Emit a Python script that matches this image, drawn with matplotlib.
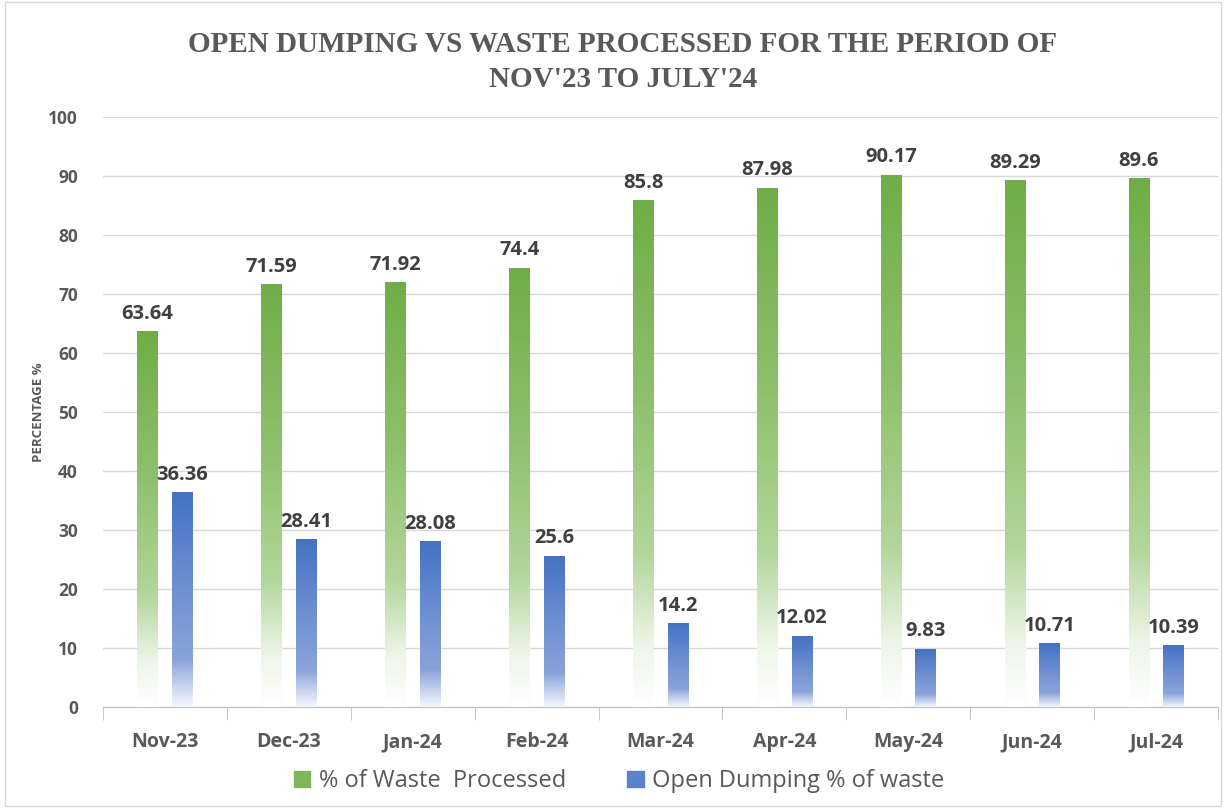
import numpy as np
import matplotlib.pyplot as plt
from matplotlib.colors import LinearSegmentedColormap
from matplotlib.patches import Rectangle

# Data
months = ["Nov-23", "Dec-23", "Jan-24", "Feb-24", "Mar-24", "Apr-24", "May-24", "Jun-24", "Jul-24"]
processed = [63.64, 71.59, 71.92, 74.4, 85.8, 87.98, 90.17, 89.29, 89.6]
dumping = [36.36, 28.41, 28.08, 25.6, 14.2, 12.02, 9.83, 10.71, 10.39]
processed_labels = ["63.64", "71.59", "71.92", "74.4", "85.8", "87.98", "90.17", "89.29", "89.6"]
dumping_labels = ["36.36", "28.41", "28.08", "25.6", "14.2", "12.02", "9.83", "10.71", "10.39"]

green_cmap = LinearSegmentedColormap.from_list(
    "g", [(0, "#ffffff"), (0.12, "#eef6e8"), (0.3, "#b2d69b"), (0.6, "#8fc16d"), (1, "#70ad47")])
blue_cmap = LinearSegmentedColormap.from_list(
    "b", [(0, "#f4f7fc"), (0.1, "#c6d3ee"), (0.22, "#8aa4da"), (0.6, "#6a8dd0"), (1, "#4472c4")])

fig = plt.figure(figsize=(12.26, 8.08), dpi=100)
ax = fig.add_axes([0.084, 0.125, 0.9095, 0.73])

font = "Open Sans"
width = 0.165
offset = 0.14
grad = np.linspace(0, 1, 256).reshape(-1, 1)

x = np.arange(len(months))
for i in range(len(months)):
    for val, lab, dx, cmap in [(processed[i], processed_labels[i], -offset, green_cmap),
                               (dumping[i], dumping_labels[i], offset, blue_cmap)]:
        cx = x[i] + dx
        ax.imshow(grad, extent=[cx - width / 2, cx + width / 2, 0, val], origin="lower",
                  aspect="auto", cmap=cmap, zorder=3)
        ax.text(cx, val + 1.3, lab, ha="center", va="bottom", fontsize=14.5,
                fontweight="bold", color="#404040", family=font, zorder=4)

ax.set_xlim(-0.5, len(months) - 0.5)
ax.set_ylim(0, 100)
ax.set_yticks(range(0, 101, 10))
ax.yaxis.grid(True, color="#d9d9d9", linewidth=1)
ax.set_axisbelow(True)
for s in ["top", "right", "left"]:
    ax.spines[s].set_visible(False)
ax.spines["bottom"].set_color("#bfbfbf")

ax.set_xticks(x)
ax.set_xticklabels(months)
ax.set_xticks(np.arange(-0.5, len(months), 1), minor=True)
ax.tick_params(axis="x", which="major", length=0, pad=18)
ax.tick_params(axis="x", which="minor", length=9, color="#bfbfbf")
ax.tick_params(axis="y", length=0, pad=18)
for t in ax.get_xticklabels():
    t.set_fontsize(14)
    t.set_fontweight("bold")
    t.set_color("#595959")
    t.set_family(font)
for t in ax.get_yticklabels():
    t.set_fontsize(12.5)
    t.set_fontweight("bold")
    t.set_color("#595959")
    t.set_family(font)

fig.text(0.031, 0.49, "PERCENTAGE %", rotation=90, ha="center", va="center",
         fontsize=9.5, fontweight="bold", color="#595959", family=font)

fig.suptitle("OPEN DUMPING VS WASTE PROCESSED FOR THE PERIOD OF\nNOV'23 TO JULY'24",
             x=0.508, y=0.962, fontsize=21, fontweight="bold", color="#595959",
             family="Liberation Serif", linespacing=1.4)

handles = [Rectangle((0, 0), 1, 1, color="#7fb65a"), Rectangle((0, 0), 1, 1, color="#5a82ca")]
leg = fig.legend(handles, ["% of Waste  Processed", "Open Dumping % of waste"],
                 loc="center", bbox_to_anchor=(0.505, 0.033), ncol=2, frameon=False,
                 handlelength=0.7, handleheight=0.7, columnspacing=2.6, handletextpad=0.35,
                 prop={"family": font, "size": 17})
for t in leg.get_texts():
    t.set_color("#595959")

fig.patches.append(Rectangle((0.004, 0.003), 0.992, 0.994, transform=fig.transFigure,
                             fill=False, edgecolor="#d9d9d9", linewidth=1))

fig.savefig("out.png", dpi=100)
